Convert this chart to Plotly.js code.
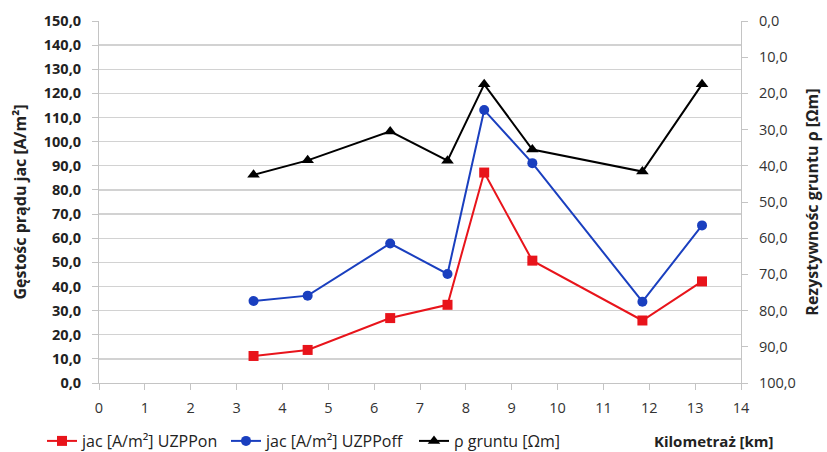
<!DOCTYPE html>
<html><head><meta charset="utf-8">
<script src="https://cdn.plot.ly/plotly-3.0.1.min.js"></script>
<style>body{margin:0;background:#fff}#c{width:827px;height:452px}</style>
</head><body><div id="c"></div>
<script>
const km = [3.37, 4.55, 6.35, 7.6, 8.4, 9.45, 11.85, 13.15];
const jacOn = [11.2, 13.7, 26.9, 32.4, 87.2, 50.7, 25.9, 42.1];
const jacOff = [34.0, 36.2, 57.8, 45.2, 113.1, 91.1, 33.7, 65.3];
const rho = [42.5, 38.5, 30.5, 38.6, 17.5, 35.5, 41.6, 17.5];
const names = ['jac [A/m²] UZPPon', 'jac [A/m²] UZPPoff', 'ρ gruntu [Ωm]'];

const FONT = 'Open Sans, DejaVu Sans, sans-serif';
const traces = [
  {x: km, y: jacOn, name: names[0], legend: 'legend', mode: 'lines+markers', line: {color: '#e8141b', width: 2},
   marker: {symbol: 'square', size: 10, color: '#e8141b'}},
  {x: km, y: jacOff, name: names[1], legend: 'legend2', mode: 'lines+markers', line: {color: '#1a3fbf', width: 2},
   marker: {symbol: 'circle', size: 10, color: '#1a3fbf'}},
  {x: km, y: rho, name: names[2], legend: 'legend3', yaxis: 'y2', mode: 'lines+markers', line: {color: '#000', width: 2},
   marker: {symbol: 'triangle-up', size: 11, color: '#000'}}
];
function leg(xpx) {
  return {orientation: 'h', xref: 'container', yref: 'container', x: xpx / 827, xanchor: 'left',
          y: 11 / 452, yanchor: 'middle', bgcolor: 'rgba(0,0,0,0)',
          font: {family: FONT, size: 16, color: '#222'}};
}
const layout = {
  width: 827, height: 452,
  margin: {l: 99, r: 86, t: 21, b: 69, autoexpand: false},
  paper_bgcolor: '#fff', plot_bgcolor: '#fff',
  separators: ', ',
  font: {family: FONT, size: 14, color: '#333'},
  showlegend: true,
  legend: leg(42), legend2: leg(226), legend3: leg(414),
  xaxis: {range: [0, 14], dtick: 1, tick0: 0, showgrid: false, zeroline: false,
          showline: true, linecolor: '#c4c4c4', ticks: 'outside', ticklen: 6, tickcolor: '#c4c4c4',
          ticklabelstandoff: 6,
          tickfont: {family: FONT, size: 14.5, color: '#333'}},
  yaxis: {range: [0, 150], dtick: 10, tick0: 0, tickformat: '.1f', showgrid: true,
          gridcolor: '#d2d2d2', gridwidth: 1.3, zeroline: false, showline: true, linecolor: '#c4c4c4',
          ticks: 'outside', ticklen: 6, tickcolor: '#c4c4c4', ticklabelstandoff: 8,
          tickfont: {family: FONT, size: 14.5, color: '#222', weight: 'bold'},
          title: {text: 'Gęstośc prądu jac [A/m²]', standoff: 13,
                  font: {family: FONT, size: 16, color: '#222', weight: 'bold'}}},
  yaxis2: {range: [100, 0], dtick: 10, tick0: 0, tickformat: '.1f', overlaying: 'y', side: 'right',
           showgrid: false, zeroline: false, showline: true, linecolor: '#c4c4c4',
           ticks: 'outside', ticklen: 6, tickcolor: '#c4c4c4', ticklabelstandoff: 8,
           tickfont: {family: FONT, size: 14.5, color: '#333'},
           title: {text: 'Rezystywnośc gruntu ρ [Ωm]', standoff: 11,
                   font: {family: FONT, size: 16, color: '#222', weight: 'bold'}}},
  annotations: [{text: 'Kilometraż [km]', xref: 'paper', yref: 'paper', x: (776 - 99) / 642, y: -58 / 362,
                 xanchor: 'right', yanchor: 'middle', showarrow: false,
                 font: {family: FONT, size: 15, color: '#222', weight: 'bold'}}]
};
Plotly.newPlot('c', traces, layout, {displayModeBar: false, staticPlot: true});
</script></body></html>
